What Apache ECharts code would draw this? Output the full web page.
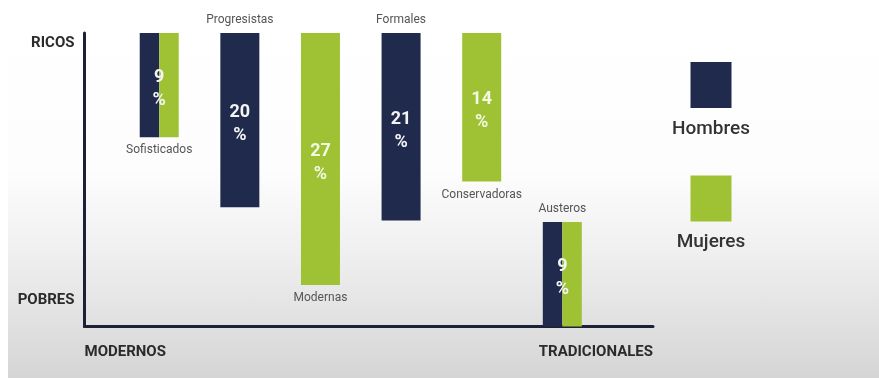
<!DOCTYPE html>
<html>
<head>
<meta charset="utf-8">
<script src="https://cdn.jsdelivr.net/npm/echarts@6/dist/echarts.min.js"></script>
<style>
  html, body { margin: 0; padding: 0; }
  #chart {
    width: 879px; height: 378px;
    background: linear-gradient(to bottom, #ffffff 0%, #fdfdfd 45%, #f0f0f0 66%, #e2e2e2 84%, #d5d5d5 100%);
  }
</style>
</head>
<body>
<div id="chart"></div>
<script>
// ---------- data ----------
const categories = ['Sofisticados', 'Progresistas', 'Modernas', 'Formales', 'Conservadoras', 'Austeros'];
const positions  = [1, 2, 3, 4, 5, 6];                 // modernos -> tradicionales
const lowValues  = [64.5, 40.6, 14.1, 36.1, 49.4, 0];   // pobres (0) -> ricos (100)
const highValues = [100, 100, 100, 100, 100, 35.6];
const pctValues  = [9, 20, 27, 21, 14, 9];
const genders    = ['Ambos', 'Hombres', 'Mujeres', 'Hombres', 'Mujeres', 'Ambos'];
const legendNames = ['Hombres', 'Mujeres'];
const yTickValues = [9, 96.6];
const yTickLabels = ['POBRES', 'RICOS'];
const xTickLabels = ['MODERNOS', 'TRADICIONALES'];

// ---------- style / layout ----------
const NAVY = '#1f2a4d';
const GREEN = '#9fc234';
const AXIS = '#1b2238';
const BAR_W = 39;
const X_MIN = 0.073, X_MAX = 7.125;
const NAME_ABOVE = new Set(['Progresistas', 'Formales', 'Austeros']);
const FONT = 'Roboto, "Noto Sans", sans-serif';

function barItems(g) {
  const out = [];
  categories.forEach((c, i) => {
    if (genders[i] === g) out.push([positions[i], lowValues[i], highValues[i], 0]);
    else if (genders[i] === 'Ambos') out.push([positions[i], lowValues[i], highValues[i], g === 'Hombres' ? -1 : 1]);
  });
  return out;
}

function barRenderer(color) {
  return function (params, api) {
    const x = api.value(0), lo = api.value(1), hi = api.value(2), half = api.value(3);
    const pTop = api.coord([x, hi]);
    const pBot = api.coord([x, lo]);
    let left = pTop[0] - BAR_W / 2, w = BAR_W;
    if (half === -1) { w = BAR_W / 2; }
    if (half === 1) { left = pTop[0]; w = BAR_W / 2; }
    return { type: 'rect', shape: { x: left, y: pTop[1], width: w, height: pBot[1] - pTop[1] }, style: { fill: color } };
  };
}

const labelData = categories.map((c, i) => [positions[i], lowValues[i], highValues[i], pctValues[i], i]);

function labelRenderer(params, api) {
  const x = api.value(0), lo = api.value(1), hi = api.value(2), pct = api.value(3), idx = api.value(4);
  const name = categories[idx];
  const pTop = api.coord([x, hi]);
  const pBot = api.coord([x, lo]);
  const cy = (pTop[1] + pBot[1]) / 2 + 4;
  const onGreen = genders[idx] === 'Mujeres';
  const above = NAME_ABOVE.has(name);
  return {
    type: 'group',
    children: [
      { type: 'text', x: pTop[0], y: cy,
        style: { text: pct + '\n%', fill: onGreen ? '#f3f8e2' : '#f4f4f4', font: 'bold 18px ' + FONT,
                 align: 'center', verticalAlign: 'middle', lineHeight: 23 } },
      { type: 'text', x: pTop[0], y: above ? pTop[1] - 13 : pBot[1] + 13,
        style: { text: name, fill: '#555555', font: '12px ' + FONT, align: 'center', verticalAlign: 'middle' } }
    ]
  };
}

const chart = echarts.init(document.getElementById('chart'), null, { renderer: 'canvas' });
chart.setOption({
  backgroundColor: 'transparent',
  animation: false,
  graphic: [
    { type: 'rect', left: 0, top: 0, shape: { width: 8, height: 378 }, style: { fill: '#ffffff' }, z: -10, silent: true }
  ],
  grid: { left: 84.5, right: 226, top: 33, bottom: 51.5 },
  xAxis: {
    type: 'value', min: X_MIN, max: X_MAX,
    splitLine: { show: false }, axisTick: { show: false },
    axisLine: { show: true, onZero: false, lineStyle: { color: AXIS, width: 3 } },
    axisLabel: {
      customValues: [X_MIN, X_MAX], showMinLabel: true, showMaxLabel: true,
      alignMinLabel: 'left', alignMaxLabel: 'right',
      formatter: v => (Math.abs(v - X_MIN) < 0.01 ? xTickLabels[0] : xTickLabels[1]),
      margin: 18, color: '#2b2b2b', fontSize: 15, fontWeight: 'bold', fontFamily: FONT
    }
  },
  yAxis: {
    type: 'value', min: 0, max: 100,
    splitLine: { show: false }, axisTick: { show: false },
    axisLine: { show: true, onZero: false, lineStyle: { color: AXIS, width: 3 } },
    axisLabel: {
      customValues: yTickValues,
      formatter: v => { let k = 0, d = 1e9; yTickValues.forEach((t, i) => { if (Math.abs(t - v) < d) { d = Math.abs(t - v); k = i; } }); return yTickLabels[k]; },
      margin: 10, color: '#2b2b2b', fontSize: 15, fontWeight: 'bold', fontFamily: FONT
    }
  },
  legend: {
    data: legendNames, orient: 'vertical', left: 661, top: 62, padding: 0,
    itemWidth: 0, itemHeight: 0, itemGap: 37, selectedMode: false,
    formatter: name => '{box' + legendNames.indexOf(name) + '| }\n{t|' + name + '}',
    textStyle: {
      rich: {
        box0: { backgroundColor: NAVY, width: 41, height: 46, align: 'center' },
        box1: { backgroundColor: GREEN, width: 41, height: 46, align: 'center' },
        t: { fontSize: 19, fontWeight: 500, color: '#333333', lineHeight: 42, width: 90, align: 'center', fontFamily: FONT }
      }
    }
  },
  series: [
    { name: 'Hombres', type: 'custom', clip: false, renderItem: barRenderer(NAVY), itemStyle: { color: NAVY }, data: barItems('Hombres'), z: 2 },
    { name: 'Mujeres', type: 'custom', clip: false, renderItem: barRenderer(GREEN), itemStyle: { color: GREEN }, data: barItems('Mujeres'), z: 2 },
    { name: 'Etiquetas', type: 'custom', clip: false, renderItem: labelRenderer, data: labelData, z: 3, silent: true }
  ]
});
</script>
</body>
</html>
